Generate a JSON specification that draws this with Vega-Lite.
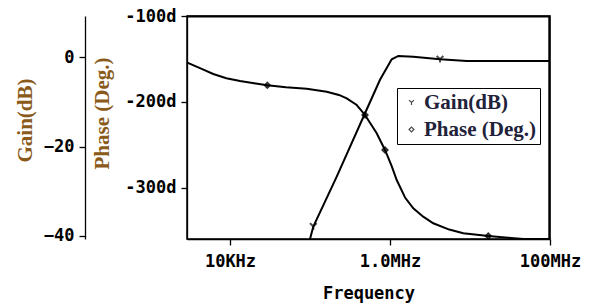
{
  "$schema": "https://vega.github.io/schema/vega-lite/v6.json",
  "width": 363,
  "height": 223,
  "autosize": {"type": "none"},
  "padding": {"left": 187, "top": 16, "right": 44, "bottom": 67},
  "background": "white",
  "config": {
    "view": {"stroke": "black", "strokeWidth": 1.5},
    "axis": {
      "grid": false,
      "domainColor": "black",
      "domainWidth": 1.3,
      "tickColor": "black",
      "tickWidth": 1.3,
      "tickSize": 6,
      "labelFont": "DejaVu Sans Mono",
      "labelFontWeight": "bold",
      "labelFontSize": 17,
      "labelColor": "black",
      "labelPadding": 5
    }
  },
  "datasets": {
    "phase": [
      {"freq": 2925, "value": -154.4}, {"freq": 4500, "value": -162}, {"freq": 6170, "value": -167.6},
      {"freq": 9000, "value": -172.5}, {"freq": 13335, "value": -175.8}, {"freq": 20000, "value": -178.5},
      {"freq": 29260, "value": -180.8}, {"freq": 50000, "value": -183}, {"freq": 90990, "value": -184.8},
      {"freq": 161800, "value": -188.3}, {"freq": 230000, "value": -192}, {"freq": 287700, "value": -196},
      {"freq": 383700, "value": -203.8}, {"freq": 487000, "value": -215.4}, {"freq": 682000, "value": -236.8},
      {"freq": 866000, "value": -256.2}, {"freq": 1050000, "value": -275}, {"freq": 1213000, "value": -291.2},
      {"freq": 1550000, "value": -312}, {"freq": 1955000, "value": -324.2}, {"freq": 2600000, "value": -334},
      {"freq": 3476000, "value": -341.7}, {"freq": 5500000, "value": -349}, {"freq": 8245000, "value": -353.4},
      {"freq": 16930000, "value": -356.5}, {"freq": 30000000, "value": -358.5}, {"freq": 46370000, "value": -360},
      {"freq": 100000000, "value": -360}
    ],
    "gain": [
      {"freq": 100000, "value": -40.7}, {"freq": 110000, "value": -37.9}, {"freq": 215800, "value": -26.7},
      {"freq": 487000, "value": -12.5}, {"freq": 750000, "value": -5.0}, {"freq": 1050000, "value": -0.4},
      {"freq": 1270000, "value": 0.34}, {"freq": 1955000, "value": 0.18}, {"freq": 4217000, "value": -0.4},
      {"freq": 9100000, "value": -0.8}, {"freq": 100000000, "value": -0.8}
    ],
    "phaseMarks": [
      {"freq": 29260, "value": -180.8}, {"freq": 487000, "value": -215.4},
      {"freq": 866000, "value": -256.2}, {"freq": 16930000, "value": -356.5}
    ],
    "gainMarks": [
      {"freq": 110000, "value": -37.9}, {"freq": 4217000, "value": -0.4}
    ],
    "border": [
      {"freq": 2900, "value": -100.6, "step": 1},
      {"freq": 98000000, "value": -100.6, "step": 2},
      {"freq": 98000000, "value": -360, "step": 3}
    ]
  },
  "layer": [
    {
      "layer": [
        {
          "data": {"name": "phase"},
          "mark": {"type": "line", "color": "black", "strokeWidth": 2},
          "encoding": {
            "x": {
              "field": "freq", "type": "quantitative",
              "scale": {"type": "log", "domain": [2900, 100000000], "nice": false},
              "axis": {
                "values": [10000, 1000000, 100000000],
                "labelExpr": "datum.value == 10000 ? '10KHz' : datum.value == 1000000 ? '1.0MHz' : '100MHz'",
                "labelFlush": false, "labelOverlap": false, "labelBound": false,
                "labelPadding": 8,
                "title": "Frequency",
                "titleFont": "DejaVu Sans Mono", "titleFontWeight": "bold", "titleFontSize": 17,
                "titleColor": "black", "titleY": 46
              }
            },
            "y": {
              "field": "value", "type": "quantitative",
              "scale": {"domain": [-360, -100], "nice": false, "zero": false},
              "axis": {
                "orient": "left", "offset": 0,
                "values": [-100, -200, -300],
                "labelExpr": "datum.value + 'd'",
                "title": "Phase (Deg.)",
                "titleFont": "Liberation Serif", "titleFontWeight": "bold", "titleFontSize": 21,
                "titleColor": "#8a5a1a", "titleX": -75, "titleY": 97, "titleBaseline": "bottom"
              }
            }
          }
        },
        {
          "data": {"name": "border"},
          "mark": {"type": "line", "color": "#000000", "strokeWidth": 2, "opacity": 1},
          "encoding": {
            "x": {"field": "freq", "type": "quantitative"},
            "y": {"field": "value", "type": "quantitative"},
            "order": {"field": "step", "type": "quantitative"}
          }
        },
        {
          "data": {"name": "phaseMarks"},
          "mark": {"type": "point", "shape": "diamond", "filled": true, "color": "black", "size": 40},
          "encoding": {
            "x": {"field": "freq", "type": "quantitative"},
            "y": {"field": "value", "type": "quantitative"}
          }
        },
        {
          "data": {"name": "phaseMarks"},
          "mark": {"type": "point", "filled": false, "color": "black", "size": 40, "strokeWidth": 1.2},
          "encoding": {
            "x": {"field": "freq", "type": "quantitative"},
            "y": {"field": "value", "type": "quantitative"},
            "shape": {
              "datum": "Phase (Deg.)",
              "scale": {"domain": ["Gain(dB)", "Phase (Deg.)"], "range": ["M-1,-1L0,0L1,-1M0,0L0,1", "diamond"]},
              "legend": {
                "title": null,
                "orient": "none",
                "legendX": 210,
                "legendY": 72,
                "strokeColor": "black",
                "fillColor": "white",
                "padding": 4,
                "labelFont": "Liberation Serif",
                "labelFontWeight": "bold",
                "labelFontSize": 21,
                "labelColor": "#22223a",
                "labelOffset": 2,
                "symbolSize": 24,
                "symbolStrokeWidth": 1.2,
                "symbolStrokeColor": "black",
                "rowPadding": 5,
                "encode": {"legend": {"update": {"stroke": {"value": "black"}, "strokeWidth": {"value": 1.2}, "fill": {"value": "white"}}}}
              }
            }
          }
        }
      ]
    },
    {
      "layer": [
        {
          "data": {"name": "gain"},
          "mark": {"type": "line", "color": "black", "strokeWidth": 2},
          "encoding": {
            "x": {"field": "freq", "type": "quantitative"},
            "y": {
              "field": "value", "type": "quantitative",
              "scale": {"domain": [-40.7, 9.3], "nice": false, "zero": false},
              "axis": {
                "orient": "left", "offset": 102,
                "values": [0, -20, -40],
                "title": "Gain(dB)",
                "titleFont": "Liberation Serif", "titleFontWeight": "bold", "titleFontSize": 21,
                "titleColor": "#8a5a1a", "titleX": -50, "titleY": 104, "titleBaseline": "bottom"
              }
            }
          }
        },
        {
          "data": {"name": "gainMarks"},
          "mark": {"type": "point", "filled": false, "color": "black", "size": 45, "strokeWidth": 2},
          "encoding": {
            "x": {"field": "freq", "type": "quantitative"},
            "y": {"field": "value", "type": "quantitative"},
            "shape": {
              "datum": "Gain(dB)",
              "scale": {"domain": ["Gain(dB)", "Phase (Deg.)"], "range": ["M-1,-1L0,0L1,-1M0,0L0,1", "diamond"]}
            }
          }
        }
      ]
    }
  ],
  "resolve": {"scale": {"y": "independent"}}
}
